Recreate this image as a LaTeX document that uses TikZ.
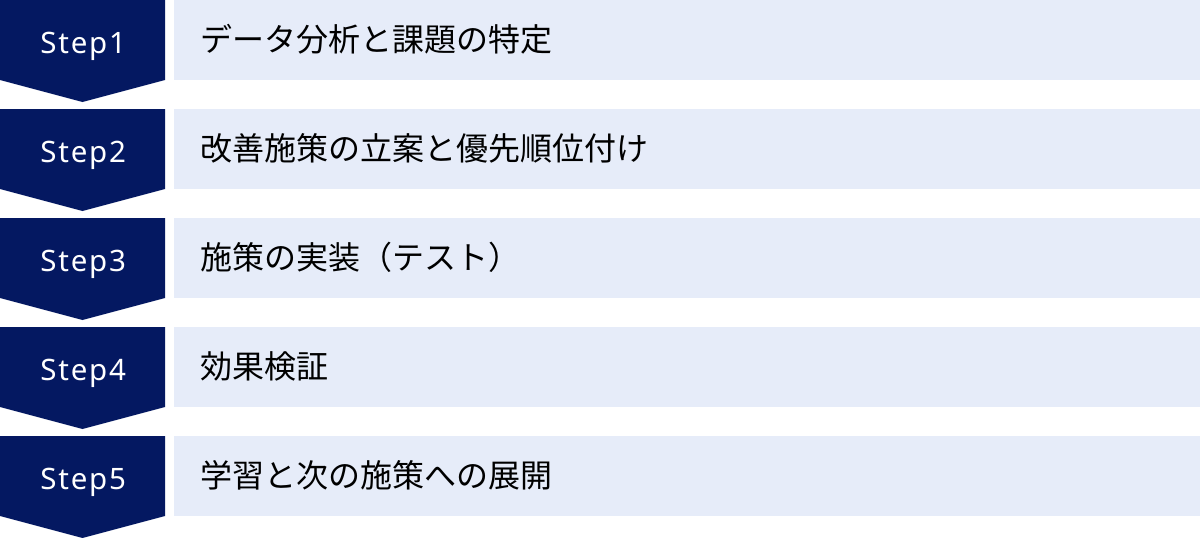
\documentclass[tikz,border=0pt]{standalone}
\usepackage{fontspec}
\setmainfont{Noto Sans}
\newfontfamily\stepfont[LetterSpace=6]{Noto Sans}
\newfontfamily\jpfont{Noto Sans CJK JP}
\usetikzlibrary{shapes}

\definecolor{stepnavy}{RGB}{4,24,97}
\definecolor{rowblue}{RGB}{230,236,249}

\tikzset{
  chevron/.style={fill=stepnavy},
  steplabel/.style={anchor=base, text=white, inner sep=0pt, font=\stepfont\fontsize{29.5pt}{36pt}\selectfont},
  rowbox/.style={anchor=north west, fill=rowblue, minimum height=80pt, text width=974pt,
    text height=22pt, text depth=0pt, inner xsep=26pt, inner ysep=0pt, align=left,
    font=\jpfont\fontsize{32pt}{38pt}\selectfont}
}

\begin{document}
\begin{tikzpicture}[x=1pt, y=-1pt]
    \useasboundingbox (0,0) rectangle (1200,538);

    % step 1
    \fill[chevron] (0,0) -- (165,0) -- (165,80) -- (82.5,102) -- (0,80) -- cycle;
    \node[steplabel] (s1) at (83.2,53.3) {Step1};
    \node[rowbox] (r1) at (174,0) {データ分析と課題の特定};

    % step 2
    \fill[chevron] (0,109) -- (165,109) -- (165,189) -- (82.5,211) -- (0,189) -- cycle;
    \node[steplabel] (s2) at (83.2,162.3) {Step2};
    \node[rowbox] (r2) at (174,109) {改善施策の立案と優先順位付け};

    % step 3
    \fill[chevron] (0,218) -- (165,218) -- (165,298) -- (82.5,320) -- (0,298) -- cycle;
    \node[steplabel] (s3) at (83.2,271.3) {Step3};
    \node[rowbox] (r3) at (174,218) {施策の実装（テスト）};

    % step 4
    \fill[chevron] (0,327) -- (165,327) -- (165,407) -- (82.5,429) -- (0,407) -- cycle;
    \node[steplabel] (s4) at (83.2,380.3) {Step4};
    \node[rowbox] (r4) at (174,327) {効果検証};

    % step 5
    \fill[chevron] (0,436) -- (165,436) -- (165,516) -- (82.5,538) -- (0,516) -- cycle;
    \node[steplabel] (s5) at (83.2,489.3) {Step5};
    \node[rowbox] (r5) at (174,436) {学習と次の施策への展開};
  \end{tikzpicture}
\end{document}
